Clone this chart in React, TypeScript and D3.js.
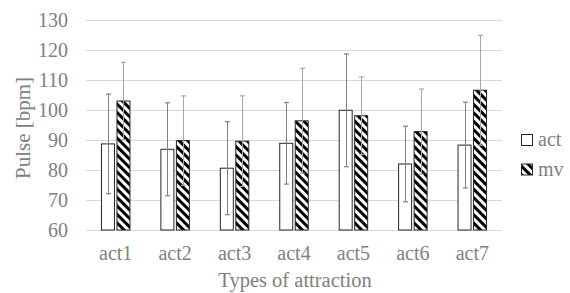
import React, { useRef, useEffect } from 'react';
import * as d3 from 'd3';

const categories = ['act1', 'act2', 'act3', 'act4', 'act5', 'act6', 'act7'];
const seriesNames = ['act', 'mv'];
const actValues = [88.7, 86.9, 80.6, 88.9, 99.9, 82.0, 88.3];
const actErrors = [16.6, 15.5, 15.5, 13.6, 18.8, 12.6, 14.3];
const mvValues = [103.0, 89.8, 89.6, 96.4, 98.1, 92.8, 106.6];
const mvErrors = [12.9, 14.9, 15.1, 17.5, 12.9, 14.2, 18.3];
const yTicks = [60, 70, 80, 90, 100, 110, 120, 130];

const font = '"Liberation Serif", "Times New Roman", serif';
const textColor = '#808080';

export default function App() {
  const svgRef = useRef<SVGSVGElement>(null);

  useEffect(() => {
    const svg = d3.select(svgRef.current);
    svg.selectAll('*').remove();

    const width = 570;
    const height = 293;
    const margin = { top: 20, right: 68, bottom: 63, left: 86 };
    const innerWidth = width - margin.left - margin.right;
    const innerHeight = height - margin.top - margin.bottom;

    svg.attr('width', width).attr('height', height);

    // Hatch pattern
    const defs = svg.append('defs');
    const pat = defs.append('pattern')
      .attr('id', 'hatch')
      .attr('patternUnits', 'userSpaceOnUse')
      .attr('width', 6)
      .attr('height', 6)
      .attr('patternTransform', 'rotate(45)');
    pat.append('rect').attr('width', 6).attr('height', 6).attr('fill', '#fff');
    pat.append('rect').attr('width', 6).attr('height', 3).attr('fill', '#000');

    const g = svg.append('g').attr('transform', `translate(${margin.left},${margin.top})`);

    const x = d3.scaleBand().domain(categories).range([0, innerWidth]);
    const y = d3.scaleLinear().domain([60, 130]).range([innerHeight, 0]);

    // Grid
    g.append('g')
      .selectAll('line')
      .data(yTicks)
      .enter()
      .append('line')
      .attr('x1', 0)
      .attr('x2', innerWidth)
      .attr('y1', d => Math.round(y(d)) + 0.5)
      .attr('y2', d => Math.round(y(d)) + 0.5)
      .attr('stroke', '#d9d9d9')
      .attr('stroke-width', 1);

    // Y tick labels
    g.append('g')
      .selectAll('text')
      .data(yTicks)
      .enter()
      .append('text')
      .attr('x', -18)
      .attr('y', d => y(d) + 7)
      .attr('text-anchor', 'end')
      .attr('font-family', font)
      .attr('font-size', 20)
      .attr('fill', textColor)
      .text(d => d);

    const barW = 13;
    const gap = 2.5;
    const series = [
      { name: 'act', values: actValues, errors: actErrors, fill: '#fff', err: '#7f7f7f', offset: -gap / 2 - barW },
      { name: 'mv', values: mvValues, errors: mvErrors, fill: 'url(#hatch)', err: '#a6a6a6', offset: gap / 2 }
    ];

    series.forEach(s => {
      const grp = g.append('g');
      grp.selectAll('rect')
        .data(categories)
        .enter()
        .append('rect')
        .attr('x', c => x(c)! + x.bandwidth() / 2 + s.offset)
        .attr('y', (c, i) => y(s.values[i]))
        .attr('width', barW)
        .attr('height', (c, i) => innerHeight - y(s.values[i]))
        .attr('fill', s.fill)
        .attr('stroke', '#262626')
        .attr('stroke-width', 1);

      const eg = g.append('g');
      categories.forEach((c, i) => {
        const cx = Math.round(x(c)! + x.bandwidth() / 2 + s.offset + barW / 2) + 0.5;
        const top = y(s.values[i] + s.errors[i]);
        const bot = y(s.values[i] - s.errors[i]);
        eg.append('line')
          .attr('x1', cx).attr('x2', cx)
          .attr('y1', top).attr('y2', bot)
          .attr('stroke', s.err).attr('stroke-width', 1);
        [top, bot].forEach(v => {
          eg.append('line')
            .attr('x1', cx - 2.5).attr('x2', cx + 2.5)
            .attr('y1', v).attr('y2', v)
            .attr('stroke', s.err).attr('stroke-width', 1.2);
        });
      });
    });

    // X labels
    g.append('g')
      .selectAll('text')
      .data(categories)
      .enter()
      .append('text')
      .attr('x', c => x(c)! + x.bandwidth() / 2)
      .attr('y', innerHeight + 30)
      .attr('text-anchor', 'middle')
      .attr('font-family', font)
      .attr('font-size', 20)
      .attr('fill', textColor)
      .text(c => c);

    // Axis titles
    svg.append('text')
      .attr('x', margin.left + innerWidth / 2 + 1)
      .attr('y', 287)
      .attr('text-anchor', 'middle')
      .attr('font-family', font)
      .attr('font-size', 20.5)
      .attr('fill', textColor)
      .text('Types of attraction');

    svg.append('text')
      .attr('transform', `translate(30,128) rotate(-90)`)
      .attr('text-anchor', 'middle')
      .attr('font-family', font)
      .attr('font-size', 21)
      .attr('fill', textColor)
      .text('Pulse [bpm]');

    // Legend
    const legend = svg.append('g').attr('transform', 'translate(521,134)');
    seriesNames.forEach((n, i) => {
      const row = legend.append('g').attr('transform', `translate(0,${i * 29.5})`);
      row.append('rect')
        .attr('x', 0.5).attr('y', 0.5)
        .attr('width', 11).attr('height', 11)
        .attr('fill', series[i].fill)
        .attr('stroke', '#262626');
      row.append('text')
        .attr('x', 17)
        .attr('y', 12)
        .attr('font-family', font)
        .attr('font-size', 20)
        .attr('fill', textColor)
        .text(n);
    });
  }, []);

  return (
    <div style={{ position: 'absolute', left: 0, top: 0 }}>
      <svg ref={svgRef} style={{ display: 'block' }} />
    </div>
  );
}
